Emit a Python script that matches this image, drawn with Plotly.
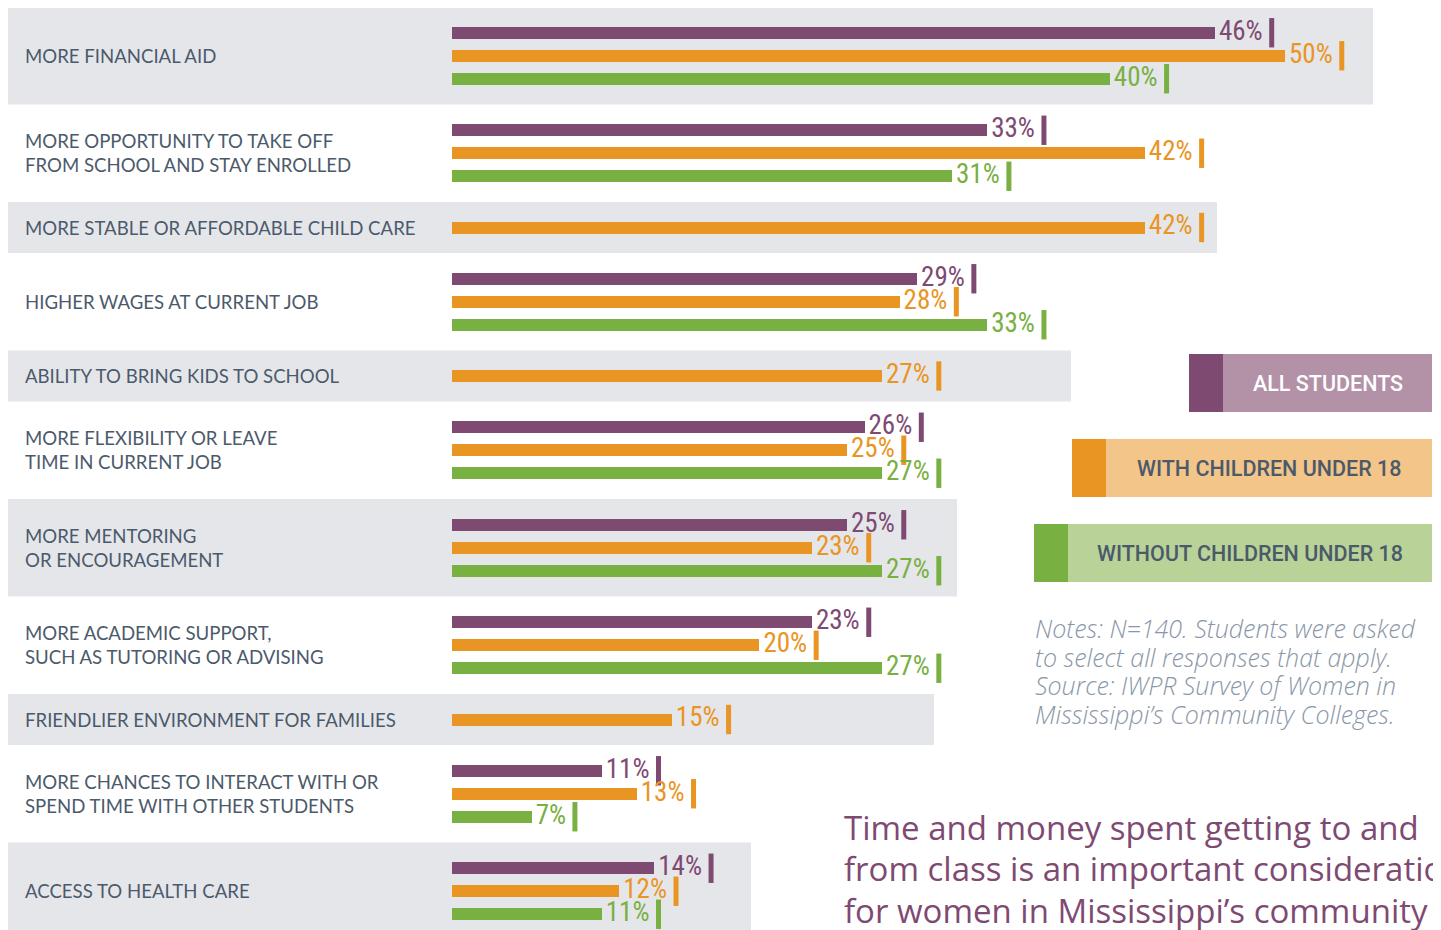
import plotly.graph_objects as go

# survey answers (percent of respondents)
categories = [
    "MORE FINANCIAL AID",
    "MORE OPPORTUNITY TO TAKE OFF<br>FROM SCHOOL AND STAY ENROLLED",
    "MORE STABLE OR AFFORDABLE CHILD CARE",
    "HIGHER WAGES AT CURRENT JOB",
    "ABILITY TO BRING KIDS TO SCHOOL",
    "MORE FLEXIBILITY OR LEAVE<br>TIME IN CURRENT JOB",
    "MORE MENTORING<br>OR ENCOURAGEMENT",
    "MORE ACADEMIC SUPPORT,<br>SUCH AS TUTORING OR ADVISING",
    "FRIENDLIER ENVIRONMENT FOR FAMILIES",
    "MORE CHANCES TO INTERACT WITH OR<br>SPEND TIME WITH OTHER STUDENTS",
    "ACCESS TO HEALTH CARE",
]
all_students = [46, 33, None, 29, None, 26, 25, 23, None, 11, 14]
with_children = [50, 42, 42, 28, 27, 25, 23, 20, 15, 13, 12]
without_children = [40, 31, None, 33, None, 27, 27, 27, None, 7, 11]

series_names = ["ALL STUDENTS", "WITH CHILDREN UNDER 18", "WITHOUT CHILDREN UNDER 18"]
series_values = [all_students, with_children, without_children]

notes_lines = [
    "Notes: N=140. Students were asked",
    "to select all responses that apply.",
    "Source: IWPR Survey of Women in",
    "Mississippi\u2019s Community Colleges.",
]
headline_lines = [
    "Time and money spent getting to and",
    "from class is an important consideration",
    "for women in Mississippi\u2019s community",
]

# colours
DARK = ["#7e4a72", "#e99524", "#79b042"]
LIGHT = ["#b391a7", "#f4c589", "#b8d298"]
GRAY = "#e5e6ea"
SLATE = "#4b5a6a"

# the page adds an 8px body margin, so the figure is drawn 8px in from the corner
OFF = 8
W, H = 1441 - OFF, 930 - OFF
# x scale (in page pixels): pixel = PX0 + PX_PER * value; bars begin a bit right of zero like the source
PX0, PX_PER = 409, 17.52
BAR_BASE = 2.46


def px_x(p):
    return (p - OFF) / W


def px_y(p):
    return 1 - (p - OFF) / H


# row layout (y axis is in page pixels, top down)
row_top, row_bottom, row_center = [], [], []
top = 7
for v in all_students:
    h = 97.5 if v is not None else 51
    row_top.append(top)
    row_bottom.append(top + h)
    row_center.append(top + h / 2)
    top += h

band_right = [1373, 1217, 1071, 957, 934, 751]  # grey bands on even rows

fig = go.Figure()

lab_font = "Roboto Condensed, Roboto, sans-serif"
LAB_SIZE = 27
DIGIT_W, PCT_W = 0.50 * LAB_SIZE, 0.64 * LAB_SIZE

for j, (name, vals) in enumerate(zip(series_names, series_values)):
    xs, ys = [], []
    for i, v in enumerate(vals):
        if v is None:
            continue
        three = all_students[i] is not None
        xs.append(v)
        ys.append(row_center[i] + ((j - 1) * 23 if three else 0))
    fig.add_trace(go.Bar(
        x=[v - BAR_BASE for v in xs], y=ys, base=BAR_BASE, orientation="h",
        width=12, marker=dict(color=DARK[j], line=dict(width=0)),
        name=name, customdata=xs, hovertemplate="%{customdata}%<extra>" + name + "</extra>",
    ))
    fig.add_trace(go.Scatter(
        x=[v + 4 / PX_PER for v in xs], y=ys, mode="text",
        text=[f"<span style='font-stretch:condensed'>{v}%</span>" for v in xs],
        textposition="middle right",
        textfont=dict(family=lab_font, size=LAB_SIZE, weight=400, color=DARK[j]),
        hoverinfo="skip", showlegend=False, cliponaxis=False,
    ))
    # small vertical tick after each value label
    tick_x = [v + (4 + DIGIT_W * len(str(v)) + PCT_W + 6 + 2.5) / PX_PER for v in xs]
    fig.add_trace(go.Scatter(
        x=tick_x, y=ys, mode="markers",
        marker=dict(symbol="line-ns", size=21, line=dict(width=5, color=DARK[j])),
        hoverinfo="skip", showlegend=False, cliponaxis=False,
    ))

shapes = []
k = 0
for i in range(len(categories)):
    if i % 2 == 0:
        shapes.append(dict(type="rect", layer="below", xref="paper", yref="y",
                           x0=max(px_x(7), 0), x1=px_x(band_right[k]),
                           y0=row_top[i] if i else 8, y1=row_bottom[i],
                           fillcolor=GRAY, line=dict(width=0)))
        k += 1

annotations = []
for i, c in enumerate(categories):
    annotations.append(dict(text=c, xref="paper", yref="y", x=px_x(23), y=row_center[i],
                            xanchor="left", yanchor="middle", align="left", showarrow=False,
                            font=dict(family="Lato, sans-serif", size=18.6, color=SLATE)))

# legend boxes
legend_boxes = [(1189, 354, 412), (1072, 439, 497), (1034, 524, 582)]
legend_text_color = ["white", SLATE, SLATE]
for j, (x0, y0, y1) in enumerate(legend_boxes):
    shapes.append(dict(type="rect", xref="paper", yref="paper", x0=px_x(x0), x1=px_x(x0 + 34),
                       y0=px_y(y1), y1=px_y(y0), fillcolor=DARK[j], line=dict(width=0)))
    shapes.append(dict(type="rect", xref="paper", yref="paper", x0=px_x(x0 + 34), x1=px_x(1432),
                       y0=px_y(y1), y1=px_y(y0), fillcolor=LIGHT[j], line=dict(width=0)))
    annotations.append(dict(text=series_names[j], xref="paper", yref="paper",
                            x=px_x((x0 + 34 + 1432) / 2), y=px_y((y0 + y1) / 2),
                            xanchor="center", yanchor="middle", showarrow=False,
                            font=dict(family="Roboto, sans-serif", size=21.5, weight=500,
                                      color=legend_text_color[j])))

for n, line in enumerate(notes_lines):
    annotations.append(dict(text=f"<i>{line}</i>", xref="paper", yref="paper",
                            x=px_x(1033), y=px_y(628 + n * 28.7), xanchor="left", yanchor="middle",
                            showarrow=False,
                            font=dict(family="Open Sans, sans-serif", size=25, weight=300,
                                      color="#8a97a8")))

for n, line in enumerate(headline_lines):
    annotations.append(dict(text=line, xref="paper", yref="paper",
                            x=px_x(842), y=px_y(827 + n * 41.5), xanchor="left", yanchor="middle",
                            showarrow=False,
                            font=dict(family="Open Sans, sans-serif", size=33, color="#7e4a72")))

fig.update_layout(
    width=W, height=H, margin=dict(l=0, r=0, t=0, b=0),
    plot_bgcolor="white", paper_bgcolor="white",
    showlegend=False, barmode="overlay", bargap=0,
    shapes=shapes, annotations=annotations,
    xaxis=dict(range=[-(PX0 - OFF) / PX_PER, (W - (PX0 - OFF)) / PX_PER], visible=False, fixedrange=True),
    yaxis=dict(range=[OFF + H, OFF], visible=False, fixedrange=True),
)

fig.write_html("out.html")
